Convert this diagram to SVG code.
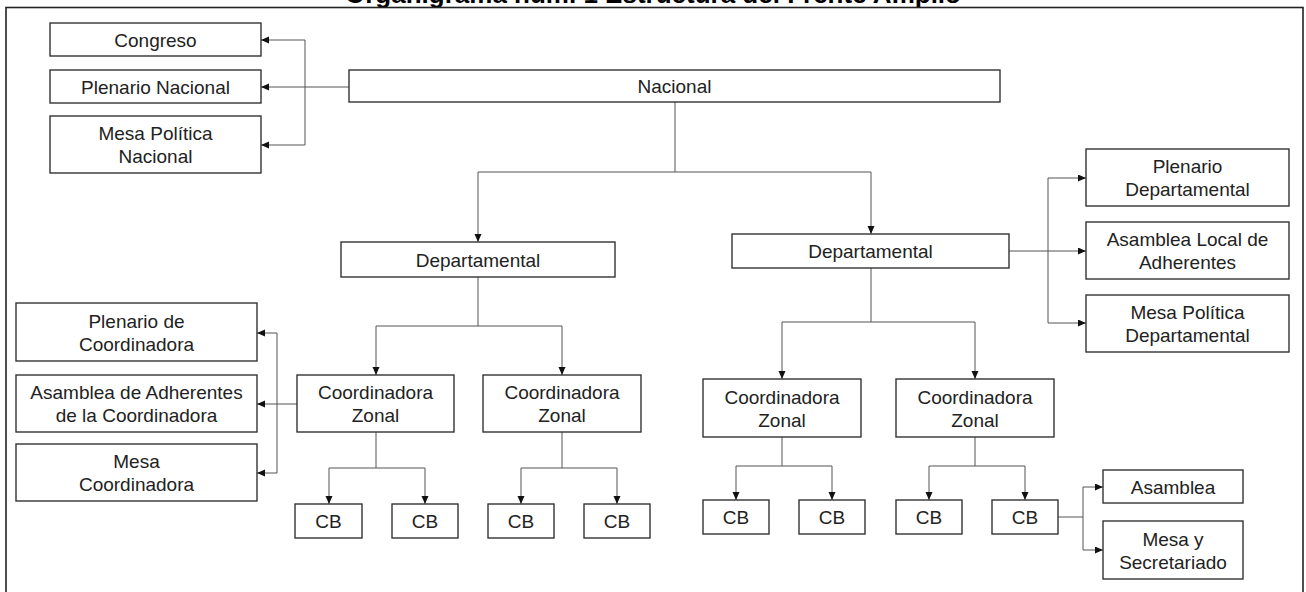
<svg xmlns="http://www.w3.org/2000/svg" width="1306" height="592" viewBox="0 0 1306 592">
<defs>
<marker id="arr" markerUnits="userSpaceOnUse" markerWidth="9" markerHeight="8" refX="8" refY="3.5" orient="auto">
<path d="M0,0 L8,3.5 L0,7 z" fill="#111"/>
</marker>
<style>
.box{fill:#fff;stroke:#333;stroke-width:1.4}
.t{font-family:"Liberation Sans",Arial,sans-serif;font-size:19px;fill:#222;text-anchor:middle}
.title{font-family:"Liberation Sans",Arial,sans-serif;font-size:26px;font-weight:bold;fill:#000;text-anchor:middle}
.c{fill:none;stroke:#555;stroke-width:1}
.a{fill:none;stroke:#555;stroke-width:1;marker-end:url(#arr)}
.frame{fill:none;stroke:#222;stroke-width:1.6}
</style>
</defs>
<rect width="1306" height="592" fill="#fff"/>
<text class="title" x="653" y="3">Organigrama núm. 1 Estructura del Frente Amplio</text>
<rect class="frame" x="6" y="7.5" width="1297" height="620"/>

<g id="connectors">
<path class="c" d="M349,87 H305 M305,40 V145"/>
<path class="a" d="M305,40 H261"/>
<path class="a" d="M305,87 H261"/>
<path class="a" d="M305,145 H261"/>
<path class="a" d="M675,102 V172 H478 V242"/>
<path class="a" d="M675,172 H871 V234"/>
<path class="c" d="M1048,178 V323"/>
<path class="a" d="M1009,251 H1086"/>
<path class="a" d="M1048,178 H1086"/>
<path class="a" d="M1048,323 H1086"/>
<path class="a" d="M478,277 V326 H376 V375"/>
<path class="a" d="M478,326 H562 V375"/>
<path class="c" d="M277,333 V473"/>
<path class="a" d="M297,404 H257"/>
<path class="a" d="M277,333 H257"/>
<path class="a" d="M277,473 H257"/>
<path class="a" d="M376,432 V468 H329 V504"/>
<path class="a" d="M376,468 H425 V504"/>
<path class="a" d="M562,432 V468 H521 V504"/>
<path class="a" d="M562,468 H617 V504"/>
<path class="a" d="M871,268 V322 H782 V379"/>
<path class="a" d="M871,322 H975 V379"/>
<path class="a" d="M782,437 V466 H736 V500"/>
<path class="a" d="M782,466 H832 V500"/>
<path class="a" d="M975,437 V466 H929 V500"/>
<path class="a" d="M975,466 H1025 V500"/>
<path class="c" d="M1058,517 H1083 M1083,487 V550"/>
<path class="a" d="M1083,487 H1103"/>
<path class="a" d="M1083,550 H1103"/>
</g>

<g id="congreso"><rect class="box" x="50" y="23" width="211" height="33"/><text class="t" x="155.5" y="46.5">Congreso</text></g>
<g id="plenario-nacional"><rect class="box" x="50" y="70" width="211" height="33"/><text class="t" x="155.5" y="93.5">Plenario Nacional</text></g>
<g id="mesa-politica-nacional"><rect class="box" x="50" y="116" width="211" height="57"/><text class="t" x="155.5" y="140">Mesa Política</text><text class="t" x="155.5" y="163">Nacional</text></g>
<g id="nacional"><rect class="box" x="349" y="70" width="651" height="32"/><text class="t" x="674.5" y="93">Nacional</text></g>
<g id="departamental-1"><rect class="box" x="341" y="242" width="274" height="35"/><text class="t" x="478" y="266.5">Departamental</text></g>
<g id="departamental-2"><rect class="box" x="732" y="234" width="277" height="34"/><text class="t" x="870.5" y="258">Departamental</text></g>
<g id="plenario-departamental"><rect class="box" x="1086" y="149" width="203" height="57"/><text class="t" x="1187.5" y="173">Plenario</text><text class="t" x="1187.5" y="196">Departamental</text></g>
<g id="asamblea-local"><rect class="box" x="1086" y="222" width="203" height="57"/><text class="t" x="1187.5" y="246">Asamblea Local de</text><text class="t" x="1187.5" y="269">Adherentes</text></g>
<g id="mesa-politica-departamental"><rect class="box" x="1086" y="295" width="203" height="57"/><text class="t" x="1187.5" y="319">Mesa Política</text><text class="t" x="1187.5" y="342">Departamental</text></g>
<g id="plenario-coordinadora"><rect class="box" x="16" y="303" width="241" height="58"/><text class="t" x="136.5" y="327.5">Plenario de</text><text class="t" x="136.5" y="350.5">Coordinadora</text></g>
<g id="asamblea-adherentes-coordinadora"><rect class="box" x="16" y="375" width="241" height="57"/><text class="t" x="136.5" y="399">Asamblea de Adherentes</text><text class="t" x="136.5" y="422">de la Coordinadora</text></g>
<g id="mesa-coordinadora"><rect class="box" x="16" y="444" width="241" height="57"/><text class="t" x="136.5" y="468">Mesa</text><text class="t" x="136.5" y="491">Coordinadora</text></g>
<g id="coordinadora-zonal-1"><rect class="box" x="297" y="375" width="157" height="57"/><text class="t" x="375.5" y="399">Coordinadora</text><text class="t" x="375.5" y="422">Zonal</text></g>
<g id="coordinadora-zonal-2"><rect class="box" x="483" y="375" width="158" height="57"/><text class="t" x="562" y="399">Coordinadora</text><text class="t" x="562" y="422">Zonal</text></g>
<g id="coordinadora-zonal-3"><rect class="box" x="703" y="379" width="158" height="58"/><text class="t" x="782" y="403.5">Coordinadora</text><text class="t" x="782" y="426.5">Zonal</text></g>
<g id="coordinadora-zonal-4"><rect class="box" x="896" y="379" width="158" height="58"/><text class="t" x="975" y="403.5">Coordinadora</text><text class="t" x="975" y="426.5">Zonal</text></g>
<g id="cb-1"><rect class="box" x="295" y="504" width="67" height="34"/><text class="t" x="328.5" y="528">CB</text></g>
<g id="cb-2"><rect class="box" x="392" y="504" width="66" height="34"/><text class="t" x="425" y="528">CB</text></g>
<g id="cb-3"><rect class="box" x="488" y="504" width="66" height="34"/><text class="t" x="521" y="528">CB</text></g>
<g id="cb-4"><rect class="box" x="584" y="504" width="66" height="34"/><text class="t" x="617" y="528">CB</text></g>
<g id="cb-5"><rect class="box" x="703" y="500" width="66" height="34"/><text class="t" x="736" y="524">CB</text></g>
<g id="cb-6"><rect class="box" x="799" y="500" width="66" height="34"/><text class="t" x="832" y="524">CB</text></g>
<g id="cb-7"><rect class="box" x="896" y="500" width="66" height="34"/><text class="t" x="929" y="524">CB</text></g>
<g id="cb-8"><rect class="box" x="992" y="500" width="66" height="34"/><text class="t" x="1025" y="524">CB</text></g>
<g id="asamblea"><rect class="box" x="1103" y="470" width="140" height="33"/><text class="t" x="1173" y="493.5">Asamblea</text></g>
<g id="mesa-secretariado"><rect class="box" x="1103" y="521" width="140" height="58"/><text class="t" x="1173" y="545.5">Mesa y</text><text class="t" x="1173" y="568.5">Secretariado</text></g>
</svg>
